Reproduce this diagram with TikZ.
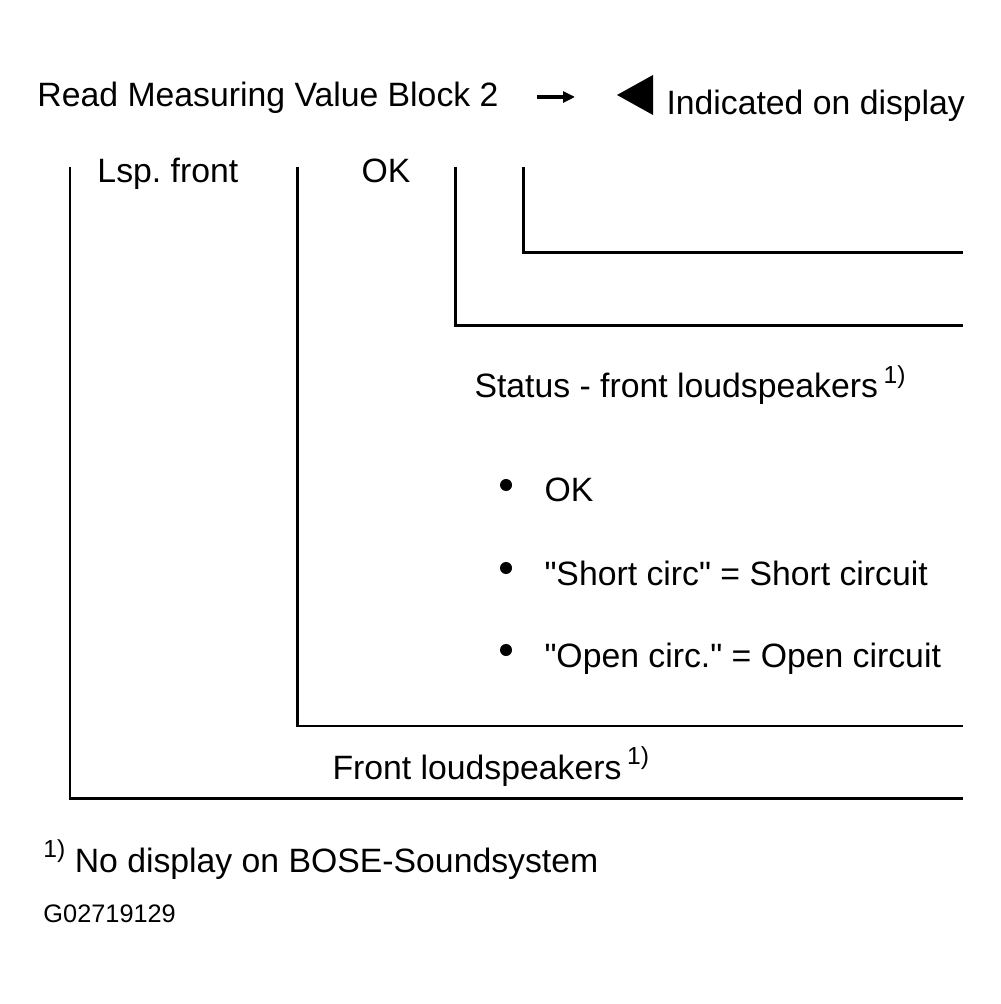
\documentclass[tikz,border=0pt]{standalone}
\usepackage{fontspec}
\setmainfont{Liberation Sans}
\usetikzlibrary{arrows.meta}
\newcommand{\supone}{\raisebox{0.8ex}{\fontsize{7}{8}\selectfont 1)}}

\begin{document}
\begin{tikzpicture}[x=0.01cm, y=-0.01cm, line width=0.85pt,
    lbl/.style={anchor=base west, inner sep=0pt, font=\fontsize{9.6}{11}\selectfont},
    dot/.style={circle, fill, inner sep=0pt, minimum size=0.12cm}]
    \useasboundingbox (0,0) rectangle (1001,1004);
    % header line
    \node[lbl] (read) at (36,107) {Read Measuring Value Block 2};
    \coordinate (arrS) at (537,97);
    \coordinate (arrE) at (575,97);
    \draw[-{Triangle[length=1.2mm,width=1.1mm]}, line width=1.1pt] (arrS) -- (arrE);
    \fill (617,95) -- (653,75) -- (653,115) -- cycle;
    \node[lbl] (disp) at (665,115) {Indicated on display};
    % brackets
    \foreach \x/\y in {70/798, 297/726, 455/326, 523/253} {
        \draw (\x,167) |- (963,\y);
    }
    \node[lbl] (lsp) at (96,183) {Lsp.\ front};
    \node[lbl] (ok) at (360,183) {OK};
    \node[lbl] (status) at (473,398) {Status - front loudspeakers\,\supone};
    \foreach \y/\t [count=\i] in {502/OK,
        585/\textquotedbl Short circ\textquotedbl\ = Short circuit,
        667/\textquotedbl Open circ.\textquotedbl\ = Open circuit} {
        \node[dot] (b\i) at (506,\y-17) {};
        \node[lbl] (s\i) at (543,\y) {\t};
    }
    \node[lbl] (front) at (331,779) {Front loudspeakers\,\supone};
    % footnote
    \node[lbl] (note) at (42,872) {\supone\ No display on BOSE-Soundsystem};
    \node[lbl, font=\fontsize{7.2}{9}\selectfont] (code) at (42,922) {G02719129};
\end{tikzpicture}
\end{document}
